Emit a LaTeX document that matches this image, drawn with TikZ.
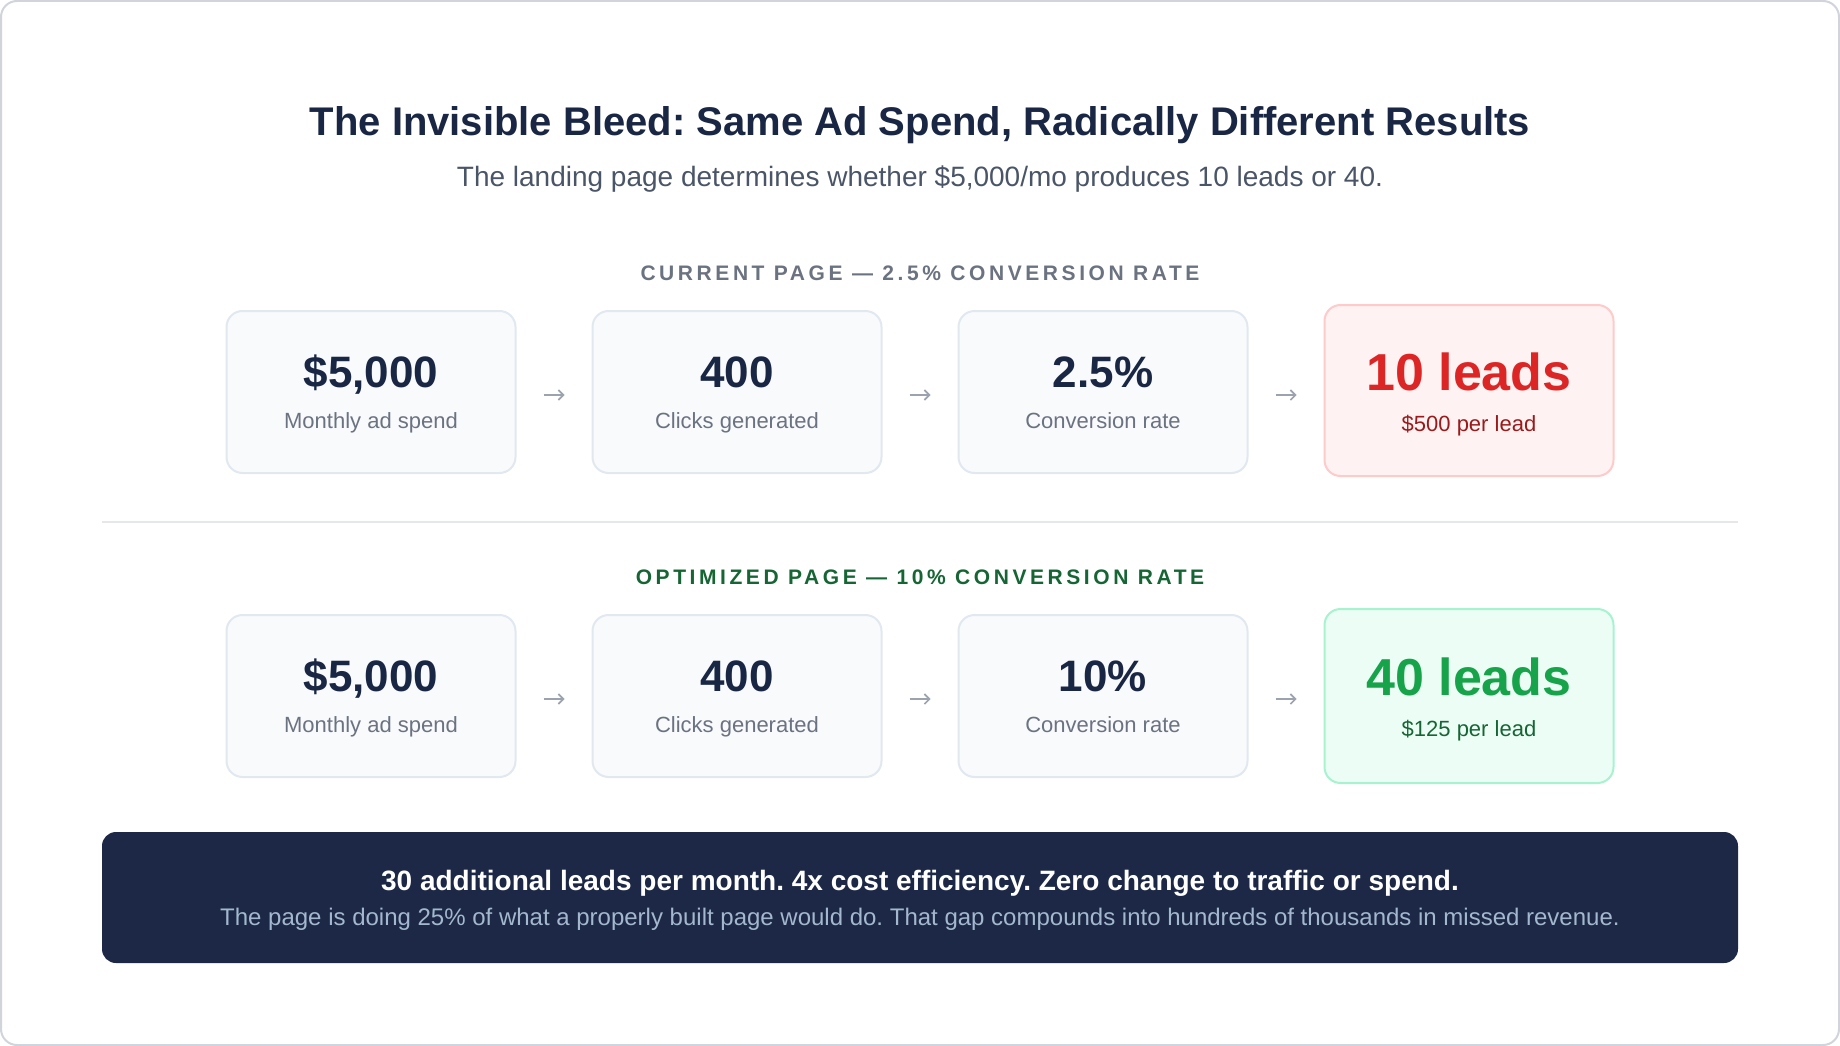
\documentclass[tikz,border=0pt]{standalone}
\usepackage{fontspec}
\setmainfont{Liberation Sans}
\newfontfamily\trackfont[LetterSpace=17]{Liberation Sans}
\usetikzlibrary{arrows.meta}
\definecolor{navy}{HTML}{1A2744}
\definecolor{muted}{HTML}{6B7280}
\definecolor{subgray}{HTML}{4A5568}
\definecolor{cardfill}{HTML}{F8FAFC}
\definecolor{cardline}{HTML}{E2E8F0}
\definecolor{badred}{HTML}{DC2626}
\definecolor{badfill}{HTML}{FEF2F2}
\definecolor{badline}{HTML}{FECACA}
\definecolor{baddark}{HTML}{991B1B}
\definecolor{goodgreen}{HTML}{16A34A}
\definecolor{goodfill}{HTML}{ECFDF5}
\definecolor{goodline}{HTML}{A7F3D0}
\definecolor{gooddark}{HTML}{166534}
\definecolor{flowgray}{HTML}{9CA3AF}
\definecolor{rulegray}{HTML}{E5E7EB}
\definecolor{framegray}{HTML}{D1D5DB}
\definecolor{bannerblue}{HTML}{1C2845}
\definecolor{bannertext}{HTML}{A3B8CE}
\frenchspacing
\begin{document}
\begin{tikzpicture}
  [x=1pt,y=-1pt,
   card/.style={draw=cardline,fill=cardfill,line width=2pt,rounded corners=16pt,
     minimum width=289pt,minimum height=162pt,inner sep=0pt},
   badcard/.style={card,draw=badline,fill=badfill,minimum height=171pt},
   goodcard/.style={card,draw=goodline,fill=goodfill,minimum height=174pt},
   val/.style={anchor=base,inner sep=0pt,text=navy,font=\fontsize{44}{50}\selectfont\bfseries},
   lbl/.style={anchor=base,inner sep=0pt,text=muted,font=\fontsize{22}{26}\selectfont},
   big/.style={anchor=base,inner sep=0pt,font=\fontsize{52}{60}\selectfont\bfseries},
   per/.style={anchor=base,inner sep=0pt,font=\fontsize{22}{26}\selectfont},
   head/.style={anchor=base,inner sep=0pt,font=\fontsize{21}{25}\trackfont\bfseries},
   flow/.style={draw=flowgray,line width=1.6pt,-{Straight Barb[length=5pt,width=10pt]},
     shorten <=27pt,shorten >=27pt}]
  \useasboundingbox (0,0) rectangle (1840,1046);
  \draw[framegray,line width=2pt,rounded corners=16pt,fill=white] (1,1) rectangle (1839,1045);

  \node[anchor=base,inner sep=0pt,text=navy,font=\fontsize{40}{48}\selectfont\bfseries] (title) at (920,136)
    {The Invisible Bleed: Same Ad Spend, Radically Different Results};
  \node[anchor=base,inner sep=0pt,text=subgray,font=\fontsize{28}{33}\selectfont] (subtitle) at (920,186)
    {The landing page determines whether \$5,000/mo produces 10 leads or 40.};

  \node[head,text=muted] (curhead) at (920,280) {CURRENT PAGE — 2.5\% CONVERSION RATE};
  \node[card] (a1) at (371,392) {};
  \node[card] (a2) at (737,392) {};
  \node[card] (a3) at (1103,392) {};
  \node[badcard] (a4) at (1469,390.5) {};
  \node[val] (av1) at ([yshift=5pt]a1.center) {\$5,000};
  \node[lbl] (al1) at ([yshift=-36pt]a1.center) {Monthly ad spend};
  \node[val] (av2) at ([yshift=5pt]a2.center) {400};
  \node[lbl] (al2) at ([yshift=-36pt]a2.center) {Clicks generated};
  \node[val] (av3) at ([yshift=5pt]a3.center) {2.5\%};
  \node[lbl] (al3) at ([yshift=-36pt]a3.center) {Conversion rate};
  \node[big,text=badred] (av4) at (a4.center) {10 leads};
  \node[per,text=baddark] (al4) at ([yshift=-41pt]a4.center) {\$500 per lead};

  \draw[rulegray,line width=1.5pt] (102,522) -- (1738,522);

  \node[head,text=gooddark] (opthead) at (920,584) {OPTIMIZED PAGE — 10\% CONVERSION RATE};
  \node[card] (b1) at (371,696) {};
  \node[card] (b2) at (737,696) {};
  \node[card] (b3) at (1103,696) {};
  \node[goodcard] (b4) at (1469,696) {};
  \node[val] (bv1) at ([yshift=5pt]b1.center) {\$5,000};
  \node[lbl] (bl1) at ([yshift=-36pt]b1.center) {Monthly ad spend};
  \node[val] (bv2) at ([yshift=5pt]b2.center) {400};
  \node[lbl] (bl2) at ([yshift=-36pt]b2.center) {Clicks generated};
  \node[val] (bv3) at ([yshift=5pt]b3.center) {10\%};
  \node[lbl] (bl3) at ([yshift=-36pt]b3.center) {Conversion rate};
  \node[big,text=goodgreen] (bv4) at ([yshift=1pt]b4.center) {40 leads};
  \node[per,text=gooddark] (bl4) at ([yshift=-40pt]b4.center) {\$125 per lead};

  \foreach \from/\to in {a1/a2,a2/a3,a3/a4,b1/b2,b2/b3,b3/b4}
    \draw[flow] ([yshift=-3pt]\from.east) -- ([yshift=-3pt]\from.east -| \to.west);

  \node[fill=bannerblue,rounded corners=14pt,minimum width=1636pt,minimum height=131pt,inner sep=0pt] (banner) at (920,897.5) {};
  \node[anchor=base,inner sep=0pt,text=white,font=\fontsize{28}{32}\selectfont\bfseries] (verdict) at (920,890)
    {30 additional leads per month. 4x cost efficiency. Zero change to traffic or spend.};
  \node[anchor=base,inner sep=0pt,text=bannertext,font=\fontsize{24}{28}\selectfont] (gapnote) at (920,925)
    {The page is doing 25\% of what a properly built page would do. That gap compounds into hundreds of thousands in missed revenue.};

\end{tikzpicture}
\end{document}
